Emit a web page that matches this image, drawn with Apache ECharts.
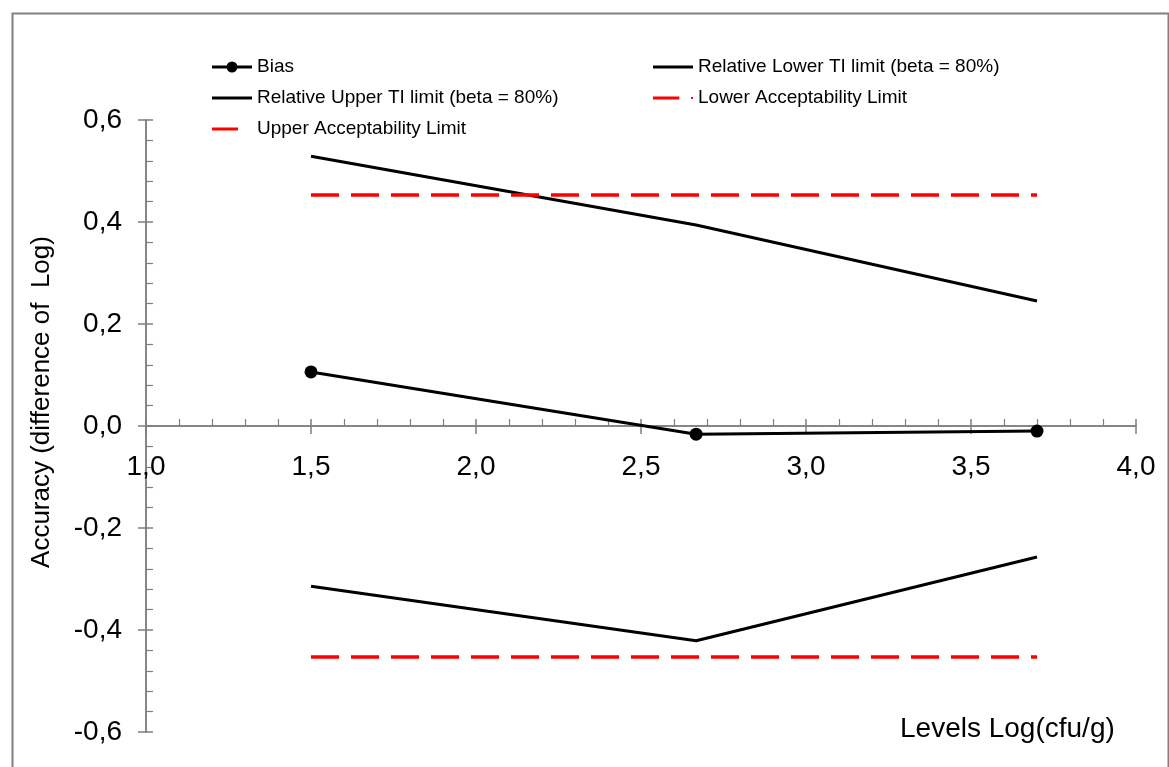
<!DOCTYPE html>
<html>
<head>
<meta charset="utf-8">
<script src="https://cdn.jsdelivr.net/npm/echarts@6/dist/echarts.min.js"></script>
<style>html,body{margin:0;padding:0;background:#fff}#c{width:1169px;height:767px}</style>
</head>
<body>
<div id="c"></div>
<script>
var levels = [1.5, 2.667, 3.7];
var bias = [0.106, -0.016, -0.010];
var upperTI = [0.529, 0.394, 0.245];
var lowerTI = [-0.314, -0.421, -0.257];
var upperAcc = [0.453, 0.453, 0.453];
var lowerAcc = [-0.453, -0.453, -0.453];
var seriesNames = ['Bias', 'Relative Lower TI limit (beta = 80%)', 'Relative Upper TI limit (beta = 80%)', 'Lower Acceptability Limit', 'Upper Acceptability Limit'];
var xTitle = 'Levels Log(cfu/g)';
var yTitle = 'Accuracy (difference of  Log)';

function pts(ys){ return levels.map(function(x,i){ return [x, ys[i]]; }); }
function fmt(v){ return v.toFixed(1).replace('.', ','); }
var FONT = '"Liberation Sans", Arial, sans-serif';
var AX = '#7f7f7f';
var GRID_TOP = 120, GRID_BOTTOM = 35, H = 767;
var zeroOffset = -(H - GRID_TOP - GRID_BOTTOM) / 2;

var ICON_BIAS = 'path://M0,5.5H15V8.5H0Z M25,5.5H40V8.5H25Z M20,1.5A5.5,5.5 0 1 1 20,12.5A5.5,5.5 0 1 1 20,1.5Z M0,0L0,14Z';
var ICON_LINE = 'path://M0,0H40V3H0Z';
var ICON_UPPER_ACC = 'path://M0,0H26V3H0Z M40,0L40,3Z';
var ICON_LOWER_ACC = 'path://M0,0H27V3H0Z M39,0.5H41V2.5H39Z';

var chart = echarts.init(document.getElementById('c'), null, {renderer:'canvas'});
var baseX = {type:'value', min:1, max:4, interval:0.5, position:'bottom', offset:zeroOffset,
  axisLine:{show:true, onZero:false, lineStyle:{color:AX, width:1.5}},
  splitLine:{show:false}};
var baseY = {type:'value', min:-0.6, max:0.6, interval:0.2, position:'left',
  axisLine:{show:true, onZero:false, lineStyle:{color:AX, width:1.5}},
  splitLine:{show:false}};
var legendText = {fontSize:19, lineHeight:20, fontFamily:FONT, color:'#000'};
chart.setOption({
  animation:false,
  backgroundColor:'#fff',
  grid:{left:146, right:33, top:GRID_TOP, bottom:GRID_BOTTOM, containLabel:false, outerBoundsMode:'none'},
  graphic:[
    {type:'rect', left:10, top:11, shape:{width:1156, height:800}, style:{fill:'none', stroke:'#808080', lineWidth:2}, silent:true, z:-1},
    {type:'text', x:900, y:729, style:{text:xTitle, font:'28px '+FONT, fill:'#000', align:'left', verticalAlign:'middle'}},
    {type:'text', x:42, y:402, rotation:Math.PI/2, style:{text:yTitle, font:'26px '+FONT, fill:'#000', align:'center', verticalAlign:'middle'}}
  ],
  legend:[
    {left:212, top:57, padding:0, orient:'vertical', itemWidth:40, itemHeight:14, itemGap:11, itemTextGap:5,
     textStyle:legendText,
     data:[{name:seriesNames[0], icon:ICON_BIAS}, {name:seriesNames[2], icon:ICON_LINE}, {name:seriesNames[4], icon:ICON_UPPER_ACC}]},
    {left:653, top:57, padding:0, orient:'vertical', itemWidth:40, itemHeight:14, itemGap:11, itemTextGap:5,
     textStyle:legendText,
     data:[{name:seriesNames[1], icon:ICON_LINE}, {name:seriesNames[3], icon:ICON_LOWER_ACC}]}
  ],
  xAxis:[
    Object.assign({}, baseX, {
      axisTick:{show:true, inside:true, length:7, lineStyle:{color:AX, width:1.5}},
      minorTick:{show:true, splitNumber:5, length:7, lineStyle:{color:AX, width:1.2}},
      axisLabel:{show:true, margin:27, fontSize:28, fontFamily:FONT, color:'#000', formatter:fmt}
    }),
    Object.assign({}, baseX, {
      axisTick:{show:true, inside:false, length:8, lineStyle:{color:AX, width:1.5}},
      minorTick:{show:false},
      axisLabel:{show:false}
    })
  ],
  yAxis:[
    Object.assign({}, baseY, {
      axisTick:{show:true, inside:true, length:7, lineStyle:{color:AX, width:1.5}},
      minorTick:{show:true, splitNumber:5, length:7, lineStyle:{color:AX, width:1.2}},
      axisLabel:{show:true, margin:24, fontSize:28, fontFamily:FONT, color:'#000', formatter:fmt}
    }),
    Object.assign({}, baseY, {
      axisTick:{show:true, inside:false, length:8, lineStyle:{color:AX, width:1.5}},
      minorTick:{show:false},
      axisLabel:{show:false}
    })
  ],
  series:[
    {name:seriesNames[0], type:'line', data:pts(bias), symbol:'circle', symbolSize:13,
     itemStyle:{color:'#000'}, lineStyle:{color:'#000', width:3}, z:5},
    {name:seriesNames[1], type:'line', data:pts(lowerTI), symbol:'none',
     itemStyle:{color:'#000'}, lineStyle:{color:'#000', width:3}},
    {name:seriesNames[2], type:'line', data:pts(upperTI), symbol:'none',
     itemStyle:{color:'#000'}, lineStyle:{color:'#000', width:3}},
    {name:seriesNames[3], type:'line', data:pts(lowerAcc), symbol:'none',
     itemStyle:{color:'#ff0000'}, lineStyle:{color:'#ff0000', width:3.5, type:[28,12]}},
    {name:seriesNames[4], type:'line', data:pts(upperAcc), symbol:'none',
     itemStyle:{color:'#ff0000'}, lineStyle:{color:'#ff0000', width:3.5, type:[28,12]}}
  ]
});
</script>
</body>
</html>
